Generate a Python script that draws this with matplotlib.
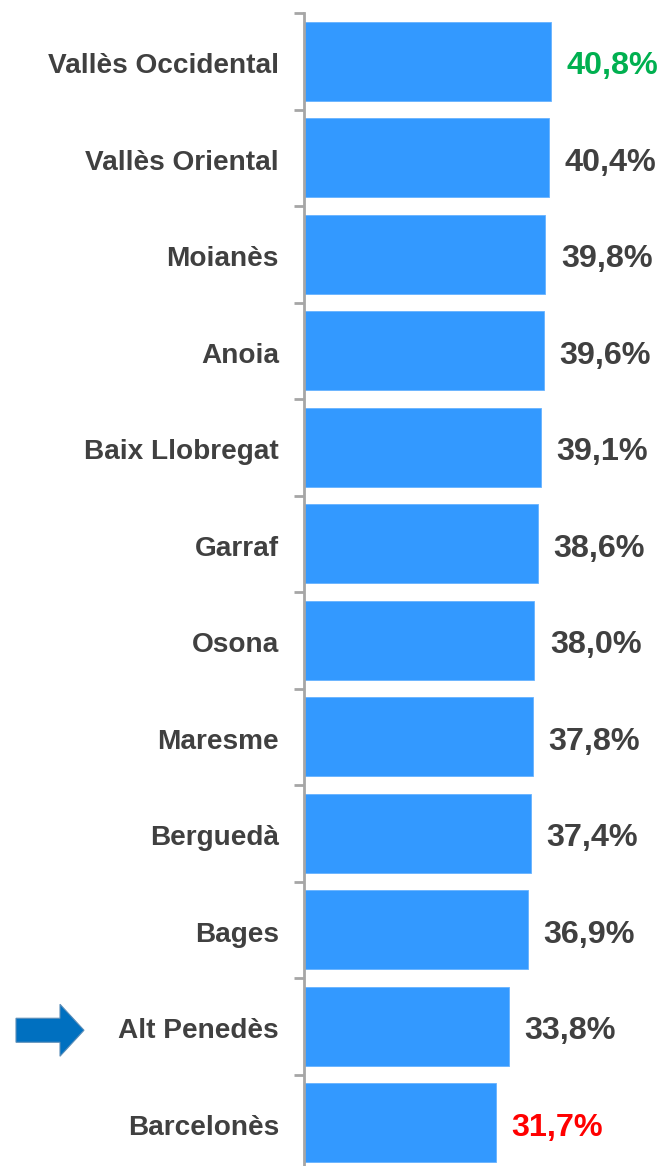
import numpy as np
import matplotlib.pyplot as plt
from matplotlib.patches import Polygon

comarques = ['Vallès Occidental', 'Vallès Oriental', 'Moianès', 'Anoia',
             'Baix Llobregat', 'Garraf', 'Osona', 'Maresme', 'Berguedà',
             'Bages', 'Alt Penedès', 'Barcelonès']
valors = [40.8, 40.4, 39.8, 39.6, 39.1, 38.6, 38.0, 37.8, 37.4, 36.9, 33.8, 31.7]
colors_valor = ['#00B050'] + ['#404040'] * 10 + ['#FF0000']

plt.rcParams['font.family'] = ['Liberation Sans', 'DejaVu Sans']

fig = plt.figure(figsize=(6.62, 11.66), dpi=100)
ax = fig.add_axes([304 / 662, 1 - 1171 / 1166, 358 / 662, 1158 / 1166])

y = np.arange(len(comarques))
ax.barh(y, valors, height=0.82, color='#3399FF', edgecolor='#66B2FF', linewidth=0.6)

for i, v in enumerate(valors):
    txt = f'{v:.1f}%'.replace('.', ',')
    ax.text(v + 2.6, i + 0.05, txt, va='center', ha='left', fontsize=23.3,
            fontweight='bold', color=colors_valor[i])

ax.set_xlim(0, 59.1)
ax.set_ylim(len(comarques) - 0.5, -0.5)

ax.set_yticks(y + 0.02)
ax.set_yticklabels(comarques, fontsize=20.2, fontweight='bold', color='#404040')
ax.tick_params(axis='y', which='major', length=0, pad=18)
ax.set_yticks(np.arange(len(comarques)) - 0.5, minor=True)
ax.tick_params(axis='y', which='minor', length=7, width=2, color='#A6A6A6')
ax.set_xticks([])

for s in ['top', 'right', 'bottom']:
    ax.spines[s].set_visible(False)
ax.spines['left'].set_color('#A6A6A6')
ax.spines['left'].set_linewidth(2)

# flecha que senyala l'Alt Penedès
yc = ax.transData.transform((0, comarques.index('Alt Penedès')))[1] - 4
pts = [(16, yc + 12), (60, yc + 12), (60, yc + 26), (84, yc),
       (60, yc - 26), (60, yc - 12), (16, yc - 12)]
fig.patches.append(Polygon(pts, closed=True, transform=None,
                           facecolor='#0070C0', edgecolor='#5B8DB8', linewidth=0.8))

fig.savefig('out.png', dpi=100)
